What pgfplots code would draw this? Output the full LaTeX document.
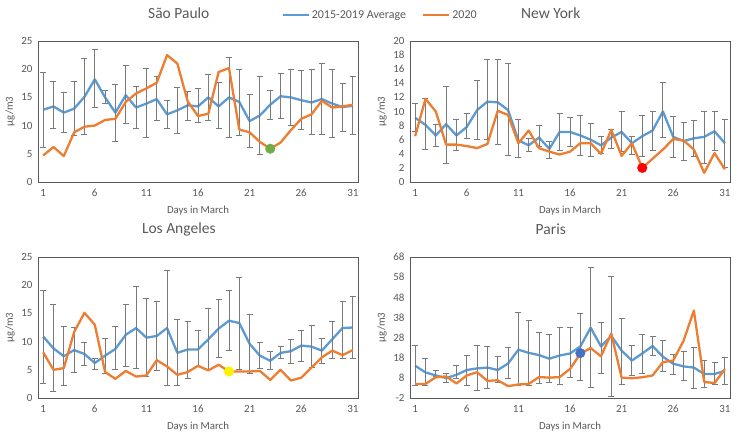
\documentclass[border=0pt]{standalone}
\usepackage{fontspec}
\setmainfont{Carlito}
\usepackage{pgfplots}
\usepackage{pgfplotstable}
\pgfplotsset{compat=1.18}
\definecolor{bl}{HTML}{5B9BD5}
\definecolor{orl}{HTML}{ED7D31}
\definecolor{errg}{HTML}{7A7A7A}
\definecolor{labg}{HTML}{595959}
\definecolor{frameg}{HTML}{595959}

\pgfplotstableread{
d avg hi lo y20
1 12.8 19.4 6.2 4.7
2 13.4 17.8 9.5 6.2
3 12.3 15.8 8.8 4.6
4 13.0 17.8 8.2 8.8
5 15.1 21.9 8.4 9.8
6 18.2 23.5 13.2 10.0
7 15.0 16.2 13.9 11.0
8 12.3 17.3 7.2 11.2
9 15.4 20.7 10.4 14.2
10 13.2 17.0 9.5 15.7
11 13.9 20.1 7.9 16.6
12 14.7 18.7 10.9 17.6
13 12.0 14.4 9.5 22.5
14 12.7 16.8 8.6 21.0
15 13.6 16.0 11.0 14.3
16 13.4 16.6 10.5 11.7
17 15.0 19.1 11.0 12.1
18 13.4 17.7 9.5 19.5
19 15.0 22.0 7.9 20.2
20 14.2 20.0 8.2 9.3
21 10.8 15.5 6.2 8.8
22 11.8 18.7 4.9 7.1
23 13.7 16.2 11.1 5.9
24 15.2 19.2 11.3 7.0
25 15.0 20.0 10.0 9.2
26 14.5 19.8 9.3 11.2
27 14.1 19.9 8.4 12.0
28 14.7 21.0 8.5 14.4
29 13.9 20.0 7.9 13.2
30 13.3 17.5 9.0 13.4
31 13.5 18.7 8.4 13.7
}\sptab

\pgfplotstableread{
d avg hi lo y20
1 9.1 11.1 7.1 6.5
2 8.1 11.8 4.6 11.8
3 6.6 8.2 5.1 10.0
4 8.2 13.6 2.6 5.3
5 6.6 8.9 4.5 5.3
6 7.8 9.7 6.2 5.1
7 10.2 14.4 6.0 4.8
8 11.4 17.4 6.1 5.4
9 11.3 17.4 5.3 10.1
10 10.2 16.8 3.8 9.5
11 5.9 8.9 3.5 5.5
12 5.2 6.2 4.4 7.3
13 6.3 8.0 5.0 4.8
14 4.7 5.8 3.4 4.3
15 7.1 9.7 4.5 3.9
16 7.1 9.2 5.1 4.3
17 6.6 9.4 3.7 5.5
18 6.0 8.3 3.6 5.5
19 5.2 6.4 4.0 4.0
20 6.3 7.5 4.7 7.4
21 7.1 10.0 4.4 3.7
22 5.5 6.5 3.9 5.5
23 6.5 9.5 3.6 2.0
24 7.3 10.0 4.5 3.3
25 10.0 14.1 6.3 4.6
26 6.4 9.3 3.5 6.1
27 5.8 8.5 3.1 5.9
28 6.2 8.7 3.6 4.6
29 6.4 10.0 2.6 1.3
30 7.2 10.0 4.5 4.1
31 5.5 8.9 2.1 1.8
}\nytab

\pgfplotstableread{
d avg hi lo y20
1 10.9 19.1 2.5 8.1
2 8.8 16.5 1.2 5.0
3 7.4 12.6 2.3 5.3
4 8.5 12.5 4.6 11.7
5 7.8 9.8 5.7 15.1
6 6.2 7.0 5.0 13.0
7 7.5 10.6 4.4 4.6
8 8.7 12.6 5.0 3.4
9 11.2 16.5 5.6 4.8
10 12.4 19.7 5.3 3.8
11 10.7 17.6 3.9 4.0
12 11.0 17.1 4.9 6.7
13 12.4 22.6 2.2 5.6
14 8.0 13.9 2.2 4.1
15 8.6 13.5 3.5 4.6
16 8.6 12.0 5.6 5.7
17 10.4 15.8 5.1 4.9
18 12.3 17.5 7.2 5.9
19 13.7 19.0 8.5 4.7
20 13.3 21.4 5.0 4.7
21 9.6 14.9 4.3 4.7
22 7.5 9.8 5.3 4.8
23 6.6 8.2 5.1 3.2
24 8.0 9.1 7.0 5.0
25 8.3 10.4 6.1 3.1
26 9.3 11.9 6.5 3.6
27 9.1 12.9 5.4 5.4
28 8.4 10.6 6.2 7.2
29 10.4 13.6 7.1 8.4
30 12.4 17.1 7.1 7.6
31 12.5 18.0 7.0 8.5
}\latab

\pgfplotstableread{
d avg hi lo y20
1 14.0 24.3 4.4 4.9
2 10.7 17.5 4.1 5.0
3 9.2 11.9 8.6 8.3
4 7.9 10.0 5.5 8.7
5 9.5 14.0 7.9 5.2
6 11.9 19.3 4.4 9.2
7 12.7 24.1 1.5 10.8
8 13.1 23.6 2.5 6.5
9 11.9 18.7 5.7 6.8
10 15.1 23.1 7.5 3.9
11 22.0 40.3 4.1 4.7
12 20.4 36.6 4.2 5.0
13 19.3 30.5 5.0 8.4
14 17.5 29.4 5.8 8.1
15 19.1 33.1 4.9 8.4
16 20.1 32.8 8.1 12.4
17 23.6 39.8 6.5 20.0
18 32.9 62.9 3.3 22.8
19 23.6 35.6 10.2 18.7
20 28.8 58.2 -1.0 30.0
21 21.5 37.6 4.6 8.1
22 16.6 24.1 9.2 7.8
23 20.1 29.4 10.2 8.3
24 23.8 28.4 19.1 9.2
25 18.5 26.8 11.1 15.8
26 15.0 19.5 9.7 16.6
27 13.7 21.2 6.6 26.4
28 13.1 23.1 2.5 41.4
29 9.9 16.7 3.1 6.0
30 9.9 15.5 4.9 5.4
31 11.5 18.3 4.9 12.3
}\patab

\pgfplotsset{
  panel/.style={
    scale only axis, width=320pt, height=141pt,
    xmin=0.5, xmax=31.5, xtick={1,6,...,31},
    major tick length=0pt,
    axis line style={draw=frameg, line width=0.8pt},
    tick label style={font=\fontsize{11}{12}\selectfont, text=labg},
    /pgf/number format/assume math mode=true,
    xticklabel style={yshift=-4pt},
    yticklabel style={xshift=-2pt},
    xlabel={Days in March},
    ylabel={µg/m3},
    label style={font=\fontsize{10.8}{12}\selectfont, text=labg},
    xlabel style={at={(axis description cs:0.5,-0.206)}, anchor=center},
    ylabel style={at={(axis description cs:-0.0875,0.5)}, anchor=center},
    title style={font=\fontsize{15.5}{17}\selectfont, text=labg, at={(axis description cs:0.44,1.156)}, anchor=center},
    legend image code/.code={\draw[#1] (0pt,0pt) -- (26pt,0pt);},
  },
  avgline/.style={bl, line width=2.3pt, mark=none, line join=round,
    error bars/.cd, y dir=both, y explicit,
    error bar style={errg, line width=0.9pt},
    error mark options={errg, line width=0.9pt, mark size=3pt, rotate=90}},
  newline/.style={orl, line width=2.3pt, mark=none, line join=round},
}

\newcommand{\citeplots}[1]{%
  \addplot[avgline] table[x=d, y=avg, y error plus expr=\thisrow{hi}-\thisrow{avg}, y error minus expr=\thisrow{avg}-\thisrow{lo}] {#1};
  \addplot[newline] table[x=d, y=y20] {#1};
}

\begin{document}
\begin{tikzpicture}
\useasboundingbox (0,0) rectangle (740pt,436pt);

% Sao Paulo
\begin{axis}[panel, at={(38pt,254pt)}, anchor=south west,
  title={São Paulo}, ymin=0, ymax=25, ytick={0,5,...,25},
  legend style={at={(1.069,1.184)}, anchor=center, draw=none, fill=none,
    legend columns=2, font=\fontsize{12}{14}\selectfont, text=labg,
    /tikz/every even column/.append style={column sep=14pt}},
  legend cell align=left]
  \addplot[avgline] table[x=d, y=avg, y error plus expr=\thisrow{hi}-\thisrow{avg}, y error minus expr=\thisrow{avg}-\thisrow{lo}] {\sptab};
  \addlegendentry{2015-2019 Average}
  \addplot[newline] table[x=d, y=y20] {\sptab};
  \addlegendentry{2020}
  \addplot[only marks, mark=*, mark size=4.8pt, color={rgb,255:red,112;green,173;blue,71}] coordinates {(23,5.9)};
\end{axis}

% New York
\begin{axis}[panel, at={(410pt,254pt)}, anchor=south west,
  title={New York}, ymin=0, ymax=20, ytick={0,2,...,20}]
  \citeplots{\nytab}
  \addplot[only marks, mark=*, mark size=4.8pt, color=red] coordinates {(23,2.0)};
\end{axis}

% Los Angeles
\begin{axis}[panel, at={(38pt,38pt)}, anchor=south west,
  title={Los Angeles}, ymin=0, ymax=25, ytick={0,5,...,25}]
  \citeplots{\latab}
  \addplot[only marks, mark=*, mark size=4.8pt, color=yellow] coordinates {(19,4.7)};
\end{axis}

% Paris
\begin{axis}[panel, at={(410pt,38pt)}, anchor=south west,
  title={Paris}, ymin=-2, ymax=68, ytick={-2,8,...,68}]
  \citeplots{\patab}
  \addplot[only marks, mark=*, mark size=4.8pt, color={rgb,255:red,68;green,114;blue,196}] coordinates {(17,20.3)};
\end{axis}
\end{tikzpicture}
\end{document}
